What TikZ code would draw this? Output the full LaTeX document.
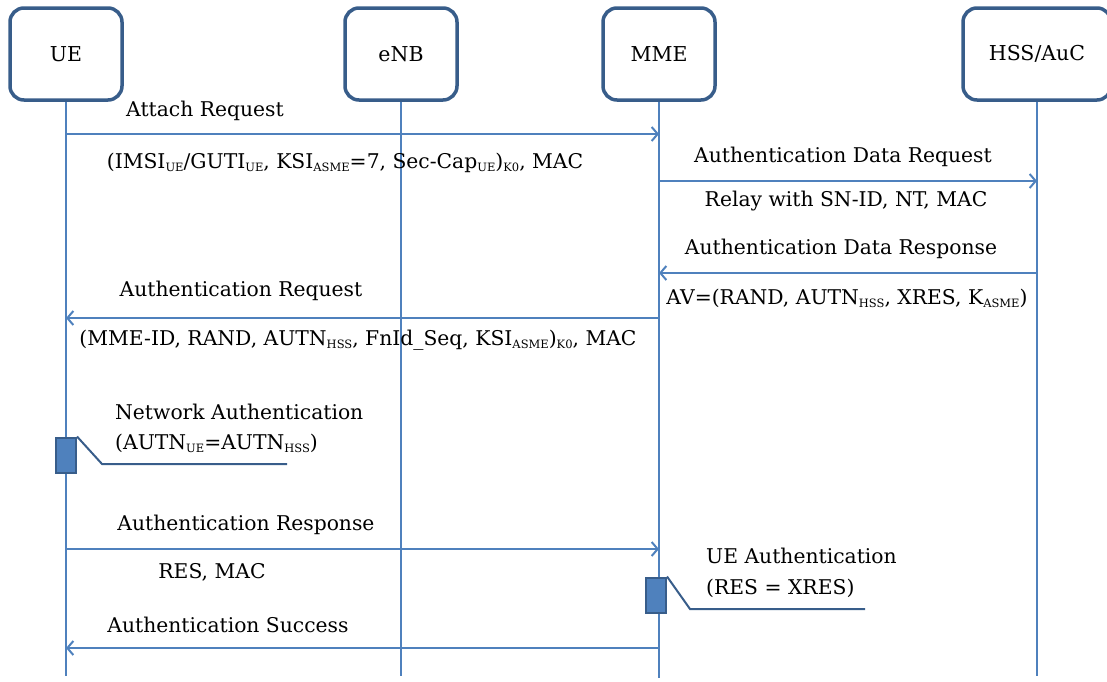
\documentclass[tikz,border=0pt]{standalone}
\usepackage{fontspec}
\setmainfont{DejaVu Serif}
\usetikzlibrary{arrows.meta}

\definecolor{lineblue}{HTML}{4F81BD}
\definecolor{boxblue}{HTML}{385D8A}

\newcommand{\lowtxt}[1]{\raisebox{-0.3ex}{\fontsize{11.5}{12}\selectfont #1}}

\begin{document}
\begin{tikzpicture}[x=1pt, y=-1pt,
		entity/.style={draw=boxblue, line width=3.5pt, rounded corners=14pt, fill=white, minimum width=112pt, minimum height=92pt, font=\fontsize{20.5}{24}\selectfont},
		lifeline/.style={draw=lineblue, line width=2pt},
		msg/.style={draw=lineblue, line width=2pt, -{Straight Barb[length=6pt,width=14pt,line width=2pt]}},
		lbl/.style={inner sep=0pt, font=\fontsize{20.3}{24}\selectfont},
		actbox/.style={draw=boxblue, line width=2pt, fill=lineblue, minimum width=20pt, minimum height=35pt, inner sep=0pt},
		noteline/.style={draw=boxblue, line width=2pt}]
	\useasboundingbox (0,0) rectangle (1107,681);

	% Entities
	\node[entity] (ue) at (66,54) {UE};
	\node[entity] (enb) at (401,54) {eNB};
	\node[entity] (mme) at (659,54) {MME};
	\node[entity, minimum width=148pt] (hss) at (1037,54) {HSS/AuC};

	% Lifelines
	\coordinate (ueend) at (66,676);
	\coordinate (enbend) at (401,676);
	\coordinate (mmeend) at (659,678);
	\coordinate (hssend) at (1037,676);
	\draw[lifeline] (ue) -- (ueend);
	\draw[lifeline] (enb) -- (enbend);
	\draw[lifeline] (mme) -- (mmeend);
	\draw[lifeline] (hss) -- (hssend);

	% Attach request
	\draw[msg] (ue |- 0,134) -- (mme |- 0,134);
	\node[lbl] (attach) at (205,111) {Attach Request};
	\node[lbl] (attachdata) at (345,163) {(IMSI\lowtxt{UE}/GUTI\lowtxt{UE}, KSI\lowtxt{ASME}=7, Sec-Cap\lowtxt{UE})\lowtxt{K0}, MAC};

	% Authentication data request
	\draw[msg] (mme |- 0,181) -- (hss |- 0,181);
	\node[lbl] (adreq) at (843,157) {Authentication Data Request};
	\node[lbl] (adreqdata) at (846,201) {Relay with SN-ID, NT, MAC};

	% Authentication data response
	\draw[msg] (hss |- 0,273) -- (mme |- 0,273);
	\node[lbl] (adresp) at (841,249) {Authentication Data Response};
	\node[lbl] (adrespdata) at (847,298) {AV=(RAND, AUTN\lowtxt{HSS}, XRES, K\lowtxt{ASME})};

	% Authentication request
	\draw[msg] (mme |- 0,318) -- (ue |- 0,318);
	\node[lbl] (authreq) at (241,291) {Authentication Request};
	\node[lbl] (authreqdata) at (358,340) {(MME-ID, RAND, AUTN\lowtxt{HSS}, FnId\_Seq, KSI\lowtxt{ASME})\lowtxt{K0}, MAC};

	% Network authentication
	\node[actbox] (uecheck) at (66,455) {};
	\coordinate (uebend) at (102,464);
	\coordinate (ueline) at (287,464);
	\draw[noteline] (uecheck.north east) -- (uebend) -- (ueline);
	\node[lbl, anchor=west] (netauth) at (115,412) {Network Authentication};
	\node[lbl, anchor=west] (netauthdata) at (115,443) {(AUTN\lowtxt{UE}=AUTN\lowtxt{HSS})};

	% Authentication response
	\draw[msg] (ue |- 0,549) -- (mme |- 0,549);
	\node[lbl] (authresp) at (246,525) {Authentication Response};
	\node[lbl] (authrespdata) at (212,572) {RES, MAC};

	% UE authentication
	\node[actbox] (mmecheck) at (656,595) {};
	\coordinate (mmebend) at (690,609);
	\coordinate (mmeline) at (865,609);
	\draw[noteline] (mmecheck.north east) -- (mmebend) -- (mmeline);
	\node[lbl, anchor=west] (ueauth) at (706,556) {UE Authentication};
	\node[lbl, anchor=west] (ueauthdata) at (706,588) {(RES = XRES)};

	% Authentication success
	\draw[msg] (mme |- 0,648) -- (ue |- 0,648);
	\node[lbl] (success) at (228,625) {Authentication Success};
\end{tikzpicture}
\end{document}
